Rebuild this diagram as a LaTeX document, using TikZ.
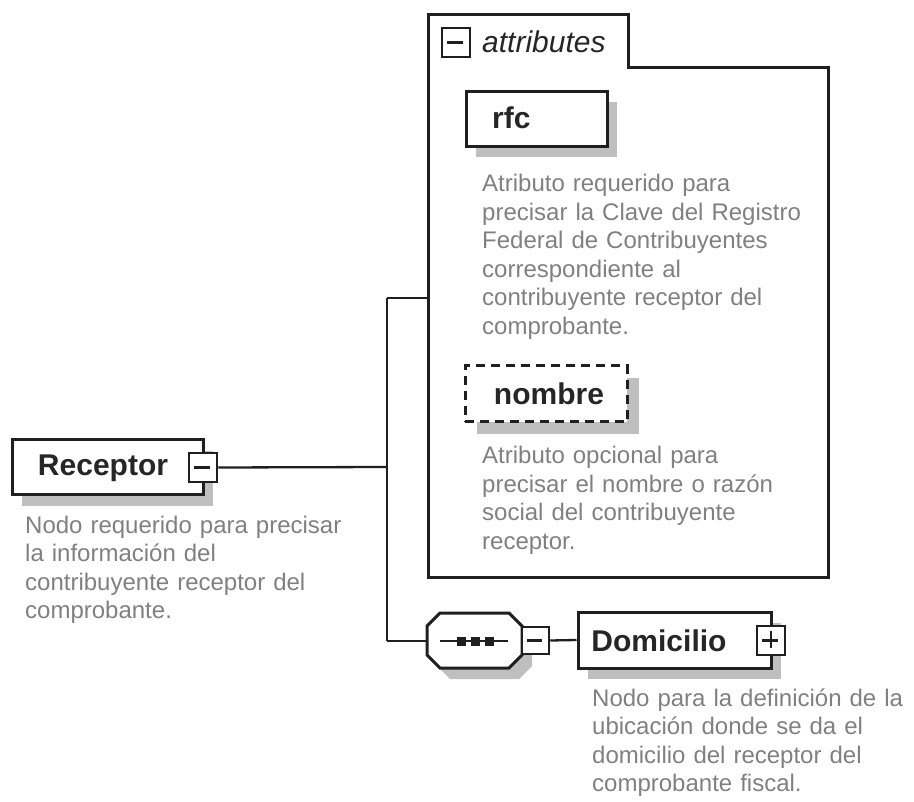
\documentclass[tikz,border=0pt]{standalone}
\usepackage{fontspec}
\setmainfont{Liberation Sans}
\begin{document}
\begin{tikzpicture}[x=1pt,y=-1pt,
  edge/.style={draw=black!88,line width=2.3pt},
  boxline/.style={draw=black!88,line width=3pt},
  shadowfill/.style={fill=black!25,draw=none},
  nametext/.style={inner sep=0pt,font=\fontsize{30}{30}\selectfont\bfseries,text=black!85},
  desc/.style={inner sep=0pt,anchor=base west,align=left,text width=340pt,
     font=\fontsize{24}{28.5}\selectfont,text=black!50},
  pm/.style={draw=black!88,line width=2.5pt,fill=white}]
\useasboundingbox (0,0) rectangle (914,802);

% connectors
\coordinate (j1) at (387,298);
\coordinate (j2) at (387,641);
\coordinate (jm) at (387,467);

% Receptor
\fill[shadowfill] (22,451) rectangle (213,506);
\node[boxline,fill=white,minimum width=191pt,minimum height=55pt,inner sep=0pt] (rec) at (107.5,467.5) {};
\node[nametext] (rect) at (103,468) {Receptor};
\node[pm,minimum width=28pt,minimum height=29pt,inner sep=0pt] (recpm) at (203,467.5) {};
\draw[edge] (recpm.west)++(6,0) -- ++(16,0);
\node[desc] (recd) at (25,533) {Nodo requerido para precisar\\la información del\\contribuyente receptor del\\comprobante.};

\draw[edge] (recpm.east) -- (jm);
\draw[edge] (j1) -- (j2);

% attributes container
\draw[boxline] (428,15) -- (628,15) -- (628,68) -- (828,68) -- (828,577) -- (428,577) -- cycle;
\coordinate (attl) at (428,298);
\draw[edge] (j1) -- (attl);
\node[pm,minimum width=28pt,minimum height=29pt,inner sep=0pt] (attpm) at (456,42.5) {};
\draw[edge] (attpm.west)++(6,0) -- ++(16,0);
\node[inner sep=0pt,anchor=base west,font=\fontsize{30}{30}\selectfont\itshape,text=black!85] (attt) at (482,53) {attributes};

% rfc
\fill[shadowfill] (476,102) rectangle (617,157);
\node[boxline,fill=white,minimum width=141pt,minimum height=55pt,inner sep=0pt] (rfc) at (536.5,119.5) {};
\node[nametext,anchor=base west] (rfct) at (492,129) {rfc};
\node[desc] (rfcd) at (482,192) {Atributo requerido para\\precisar la Clave del Registro\\Federal de Contribuyentes\\correspondiente al\\contribuyente receptor del\\comprobante.};

% nombre
\fill[shadowfill] (477,378) rectangle (639,434);
\node[fill=white,draw=black!88,line width=3pt,dash pattern=on 9pt off 6pt,minimum width=162pt,minimum height=56pt,inner sep=0pt] (nom) at (546,394) {};
\node[nametext] (nomt) at (549,394) {nombre};
\node[desc] (nomd) at (482,464) {Atributo opcional para\\precisar el nombre o razón\\social del contribuyente\\receptor.};

% sequence compositor
\fill[shadowfill] (437+13,624) -- (532-13,624) -- (532,624+13) -- (532,679-13) -- (532-13,679) -- (437+13,679) -- (437,679-13) -- (437,624+13) -- cycle;
\draw[boxline,fill=white] (427+13,613) -- (522-13,613) -- (522,613+13) -- (522,668-13) -- (522-13,668) -- (427+13,668) -- (427,668-13) -- (427,613+13) -- cycle;
\coordinate (seql) at (427,641);
\draw[edge] (j2) -- (seql);
\coordinate (sa) at (440,641);
\coordinate (sb) at (508,641);
\draw[edge] (sa) -- (sb);
\foreach \cx in {461,475,489}{\fill[black!88] (\cx-4.5,636.5) rectangle (\cx+4.5,645.5);}
\node[pm,minimum width=27pt,minimum height=27pt,inner sep=0pt] (seqpm) at (535.5,640.5) {};
\draw[edge] (seqpm.west)++(6,0) -- ++(15,0);

% Domicilio
\fill[shadowfill] (588,623) rectangle (781,679);
\node[boxline,fill=white,minimum width=193pt,minimum height=56pt,inner sep=0pt] (dom) at (674.5,640) {};
\node[nametext] (domt) at (659,641) {Domicilio};
\node[pm,minimum width=28pt,minimum height=29pt,inner sep=0pt] (dompm) at (771,640.5) {};
\draw[edge] (dompm.west)++(6,0) -- ++(16,0);
\draw[edge] (dompm.north)++(0,6) -- ++(0,17);
\draw[edge] (seqpm.east) -- (dom.west);
\node[desc] (domd) at (592,706) {Nodo para la definición de la\\ubicación donde se da el\\domicilio del receptor del\\comprobante fiscal.};
\end{tikzpicture}
\end{document}
